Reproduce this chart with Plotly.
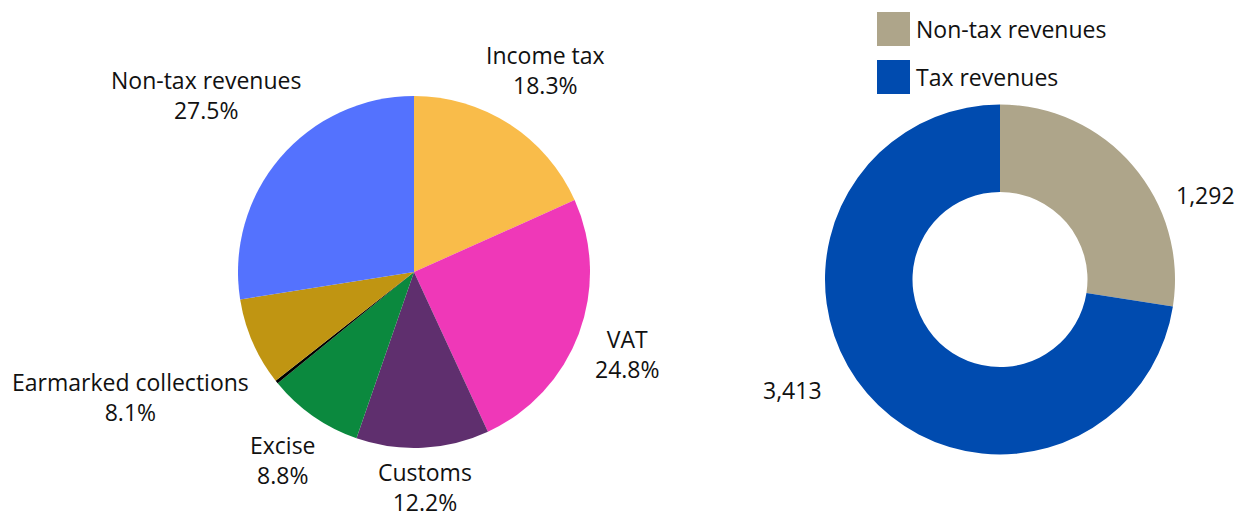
import plotly.graph_objects as go

# Left pie: revenue composition (%)
pie_labels = ["Income tax", "VAT", "Customs", "Excise", "Other", "Earmarked collections", "Non-tax revenues"]
pie_values = [18.3, 24.8, 12.2, 8.8, 0.3, 8.1, 27.5]
pie_colors = ["#F9BC4A", "#EF38B8", "#5F2F6E", "#0B893E", "#000000", "#C09512", "#5472FE"]

# Right donut: revenues (absolute)
donut_labels = ["Non-tax revenues", "Tax revenues"]
donut_values = [1292, 3413]
donut_colors = ["#AEA58A", "#004BAF"]

FONT = "Open Sans"
FS = 23
W, H = 1244, 518

fig = go.Figure()
fig.add_trace(go.Pie(
    labels=pie_labels, values=pie_values, sort=False, direction="clockwise", rotation=0,
    marker=dict(colors=pie_colors, line=dict(width=0)), textinfo="none", hoverinfo="label+percent",
    domain=dict(x=[237 / W, 591 / W], y=[1 - 448 / H, 1 - 96 / H]), showlegend=False,
))
fig.add_trace(go.Pie(
    labels=donut_labels, values=donut_values, sort=False, direction="clockwise", rotation=0, hole=0.5,
    marker=dict(colors=donut_colors, line=dict(width=0)), textinfo="none", hoverinfo="label+value",
    domain=dict(x=[825 / W, 1175 / W], y=[1 - 455 / H, 1 - 104 / H]), showlegend=False,
))

ann = []
# pie label positions (pixel centers)
pie_label_pos = {
    "Income tax": (545, 70),
    "VAT": (628, 354),
    "Customs": (425, 487),
    "Excise": (283, 460),
    "Earmarked collections": (130, 397),
    "Non-tax revenues": (206, 95),
}
for lab, val in zip(pie_labels, pie_values):
    if lab not in pie_label_pos:
        continue
    x, y = pie_label_pos[lab]
    ann.append(dict(x=x / W, y=1 - y / H, xref="paper", yref="paper", text=f"{lab}<br>{val:.1f}%",
                    showarrow=False, xanchor="center", yanchor="middle", align="center",
                    font=dict(family=FONT, size=FS, color="#111111")))

donut_label_pos = [(1205, 195), (792, 390)]
for (x, y), v in zip(donut_label_pos, donut_values):
    ann.append(dict(x=x / W, y=1 - y / H, xref="paper", yref="paper", text=f"{v:,}",
                    showarrow=False, xanchor="center", yanchor="middle",
                    font=dict(family=FONT, size=FS, color="#111111")))

# legend drawn as shapes + text
shapes = []
leg_y = [29, 77]
for (lab, col), yc in zip(zip(donut_labels, donut_colors), leg_y):
    shapes.append(dict(type="rect", xref="paper", yref="paper", x0=877 / W, x1=910 / W,
                       y0=1 - (yc + 17) / H, y1=1 - (yc - 17) / H, fillcolor=col, line=dict(width=0)))
    ann.append(dict(x=914 / W, y=1 - yc / H, xref="paper", yref="paper", text=lab, showarrow=False,
                    xanchor="left", yanchor="middle", font=dict(family=FONT, size=FS, color="#111111")))

fig.update_layout(width=W, height=H, margin=dict(l=0, r=0, t=0, b=0), paper_bgcolor="white",
                  plot_bgcolor="white", annotations=ann, shapes=shapes)
fig.write_html("out.html", config={"displayModeBar": False},
               post_script="document.body.style.margin='0';document.body.style.overflow='hidden';")
